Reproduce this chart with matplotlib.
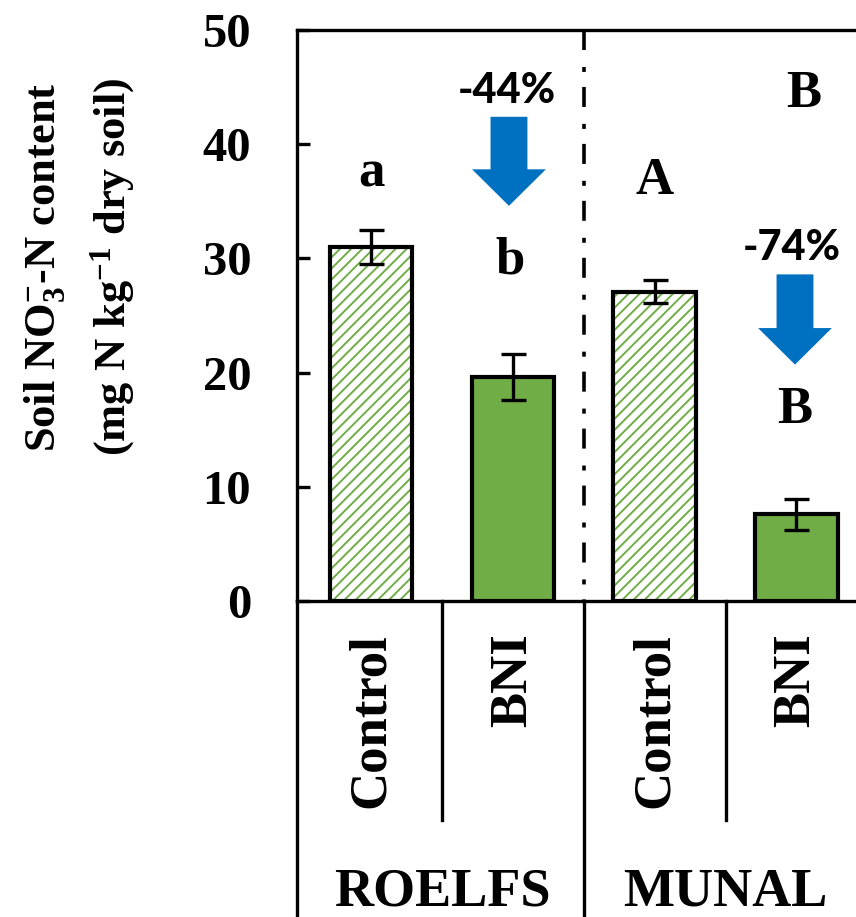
import matplotlib
matplotlib.use("Agg")
import matplotlib.pyplot as plt
from matplotlib.patches import FancyArrow
from matplotlib.lines import Line2D
import matplotlib.transforms as mtransforms

plt.rcParams['font.family'] = ['Liberation Serif', 'DejaVu Serif']
plt.rcParams['font.weight'] = 'bold'
plt.rcParams['mathtext.fontset'] = 'custom'
plt.rcParams['mathtext.rm'] = 'Liberation Serif:bold'
plt.rcParams['mathtext.it'] = 'Liberation Serif:bold'
plt.rcParams['mathtext.bf'] = 'Liberation Serif:bold'
plt.rcParams['mathtext.default'] = 'rm'
plt.rcParams['hatch.linewidth'] = 1.4
plt.rcParams['lines.scale_dashes'] = False

# ---- data ----
cultivars = ["ROELFS", "MUNAL"]
treatments = ["Control", "BNI", "Control", "BNI"]
values = [31.0, 19.6, 27.1, 7.6]
errors = [1.45, 2.0, 1.0, 1.35]
hatched = [True, False, True, False]
letters = ["a", "b", "A", "B"]
letter_pos = [(0.0, 36.3), (0.98, 28.7), (2.0, 35.6), (2.99, 15.6)]
top_letter = ("B", 3.05, 43.3)
pct_labels = ["-44%", "-74%"]
pct_pos = [(0.955, 43.6), (2.966, 29.9)]
# arrows: x, top, head start, tip
arrows = [(0.973, 42.4, 37.8, 34.6), (2.99, 28.6, 23.9, 20.7)]
yticks = [0, 10, 20, 30, 40, 50]

GREEN = "#70AD47"
BLUE = "#0070C0"

fig = plt.figure(figsize=(8.56, 9.17), dpi=100)
W, H = 856, 917
ax_left, ax_bottom_px, ax_top_px = 297, 601, 30
ppu = 141.8
xmin = (297 - 371) / ppu
xmax = 3.6
ax = fig.add_axes([ax_left / W, (H - ax_bottom_px) / H, (xmax - xmin) * ppu / W,
                   (ax_bottom_px - ax_top_px) / H])
ax.set_xlim(xmin, xmax)
ax.set_ylim(0, 50)

x = list(range(len(values)))
bw = 0.58
for xi, v, e, h in zip(x, values, errors, hatched):
    if h:
        ax.bar(xi, v, bw, color="white", edgecolor=GREEN, hatch="///", linewidth=0, zorder=2)
    else:
        ax.bar(xi, v, bw, color=GREEN, linewidth=0, zorder=2)
    ax.bar(xi, v, bw, fill=False, edgecolor="black", linewidth=3.0, zorder=3)
    ax.errorbar(xi, v, yerr=e, fmt="none", ecolor="black", elinewidth=2.4,
                capsize=9, capthick=2.4, zorder=4)

# separator dash-dot line
ax.plot([1.5, 1.5], [50, 0], color="black", lw=2.6,
        linestyle=(0, (14.4, 12.2, 3.6, 10.8)), zorder=1)

# spines
for s in ["top", "left", "bottom"]:
    ax.spines[s].set_linewidth(2.4)
ax.spines["right"].set_visible(False)

ax.set_yticks(yticks)
ax.set_yticklabels([str(t) for t in yticks], fontsize=35, fontweight="bold")
ax.tick_params(axis="y", direction="in", length=9.5, width=2.4, pad=33)
ax.set_xticks([])

# letters
for t, (lx, ly) in zip(letters, letter_pos):
    ax.text(lx, ly, t, ha="center", va="baseline", fontsize=38, fontweight="bold")
ax.text(top_letter[1], top_letter[2], top_letter[0], ha="center", va="baseline",
        fontsize=38, fontweight="bold")

# percentages
for t, (px, py) in zip(pct_labels, pct_pos):
    ax.text(px, py, t, ha="center", va="baseline", fontsize=30, fontweight=900,
            family=["Lato", "DejaVu Sans"])

# arrows
for ax_x, top, hstart, tip in arrows:
    ax.add_patch(FancyArrow(ax_x, top, 0, tip - top, width=0.26, head_width=0.52,
                            head_length=hstart - tip, length_includes_head=True,
                            color=BLUE, linewidth=0, zorder=5))

# below-axis table lines
trans = mtransforms.blended_transform_factory(ax.transData, ax.transAxes)
y_bottom = (ax_bottom_px - H) / (ax_bottom_px - ax_top_px)
y_short = (ax_bottom_px - 820) / (ax_bottom_px - ax_top_px)
ax.add_line(Line2D([xmin, xmin], [0, y_bottom - 0.05], transform=trans, color="black",
                   lw=2.4, clip_on=False))
ax.add_line(Line2D([1.5, 1.5], [0, y_bottom - 0.05], transform=trans, color="black",
                   lw=2.4, clip_on=False))
for sx in [0.5, 2.5]:
    ax.add_line(Line2D([sx, sx], [0, y_short], transform=trans, color="black",
                       lw=2.4, clip_on=False))

# treatment labels
y_lab = (ax_bottom_px - 633) / (ax_bottom_px - ax_top_px)
for xi, t in zip(x, treatments):
    ax.text(xi, y_lab, t, rotation=90, ha="center", va="top", fontsize=38,
            fontweight="bold", transform=trans)

# cultivar labels
y_grp = (ax_bottom_px - 905) / (ax_bottom_px - ax_top_px)
for gx, c in zip([0.5, 2.5], cultivars):
    ax.text(gx, y_grp, c, ha="center", va="baseline", fontsize=39,
            fontweight="bold", transform=trans)

# y label (two lines)
fig.text(45 / W, 1 - 267 / H, r"Soil NO$_3^{-}$-N content", rotation=90,
         ha="center", va="center", fontsize=32, fontweight="bold")
fig.text(113 / W, 1 - 267 / H, r"(mg N kg$^{-1}$ dry soil)", rotation=90,
         ha="center", va="center", fontsize=32, fontweight="bold")

fig.savefig("out.png", dpi=100)
